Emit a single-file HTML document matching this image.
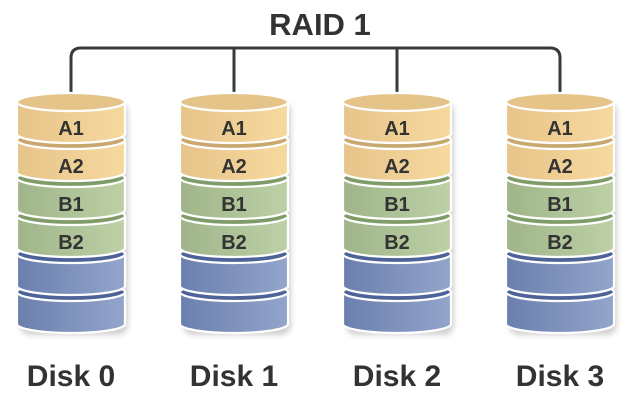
<!DOCTYPE html>
<html><head><meta charset="utf-8"><style>
html,body{margin:0;padding:0;background:#fff;width:640px;height:402px;overflow:hidden}
svg{display:block}
text{font-family:"Liberation Sans",sans-serif;font-weight:bold;fill:#333}
</style></head><body>
<svg id="s" width="640" height="402" viewBox="0 0 640 402" xmlns="http://www.w3.org/2000/svg">
<defs>
<linearGradient id="go" x1="0" x2="1"><stop offset="0" stop-color="#e6c48a"/><stop offset="1" stop-color="#f7d99e"/></linearGradient>
<linearGradient id="gg" x1="0" x2="1"><stop offset="0" stop-color="#9fb589"/><stop offset="1" stop-color="#bdd0a6"/></linearGradient>
<linearGradient id="gb" x1="0" x2="1"><stop offset="0" stop-color="#6b7fae"/><stop offset="1" stop-color="#93a5cb"/></linearGradient>
<filter id="sh" x="-20%" y="-10%" width="140%" height="120%"><feGaussianBlur stdDeviation="3"/></filter>
</defs>
<text x="320" y="35" font-size="31" text-anchor="middle">RAID 1</text>
<path d="M71,102 V58 Q71,48 81,48 H550 Q560,48 560,58 V102 M234,48 V102 M397,48 V102" fill="none" stroke="#3a3a3a" stroke-width="3"/>
<g id="disks"></g>
<text x="71" y="386" font-size="30" text-anchor="middle">Disk 0</text>
<text x="234" y="386" font-size="30" text-anchor="middle">Disk 1</text>
<text x="397" y="386" font-size="30" text-anchor="middle">Disk 2</text>
<text x="560" y="386" font-size="30" text-anchor="middle">Disk 3</text>
</svg>
<script>
var g=document.getElementById('disks'),out='';
var cols=[['url(#go)','#c9a86e','#e5c489'],['url(#go)','#c9a86e','#e5c489'],['url(#gg)','#7f9c68','#9fb589'],['url(#gg)','#7f9c68','#9fb589'],['url(#gb)','#4c6298','#6b7fae'],['url(#gb)','#4c6298','#6b7fae']];
var labels=['A1','A2','B1','B2','',''];
[71,234,397,560].forEach(function(cx){
 var rx=54,ry=9,h=32,p=38,T0=102,x0=cx-rx,x1=cx+rx;
 out+='<rect x="'+(x0+3)+'" y="'+(T0)+'" width="'+(2*rx)+'" height="'+(5*p+h+ry+2)+'" rx="10" fill="#000" opacity="0.18" filter="url(#sh)"/>';
 for(var i=5;i>=0;i--){
  var T=T0+i*p,c=cols[i];
  out+='<path d="M'+x0+','+T+' V'+(T+h)+' A'+rx+','+ry+' 0 0 0 '+x1+','+(T+h)+' V'+T+' Z" fill="'+c[0]+'" stroke="#fff" stroke-width="2.2"/>';
  out+='<ellipse cx="'+cx+'" cy="'+T+'" rx="'+rx+'" ry="'+ry+'" fill="'+(i==0?c[2]:c[1])+'" stroke="#fff" stroke-width="2.2"/>';
  if(labels[i]) out+='<text x="'+cx+'" y="'+(T+h/2+ry+8)+'" font-size="20" text-anchor="middle">'+labels[i]+'</text>';
 }
});
g.innerHTML=out;
</script>
</body></html>
